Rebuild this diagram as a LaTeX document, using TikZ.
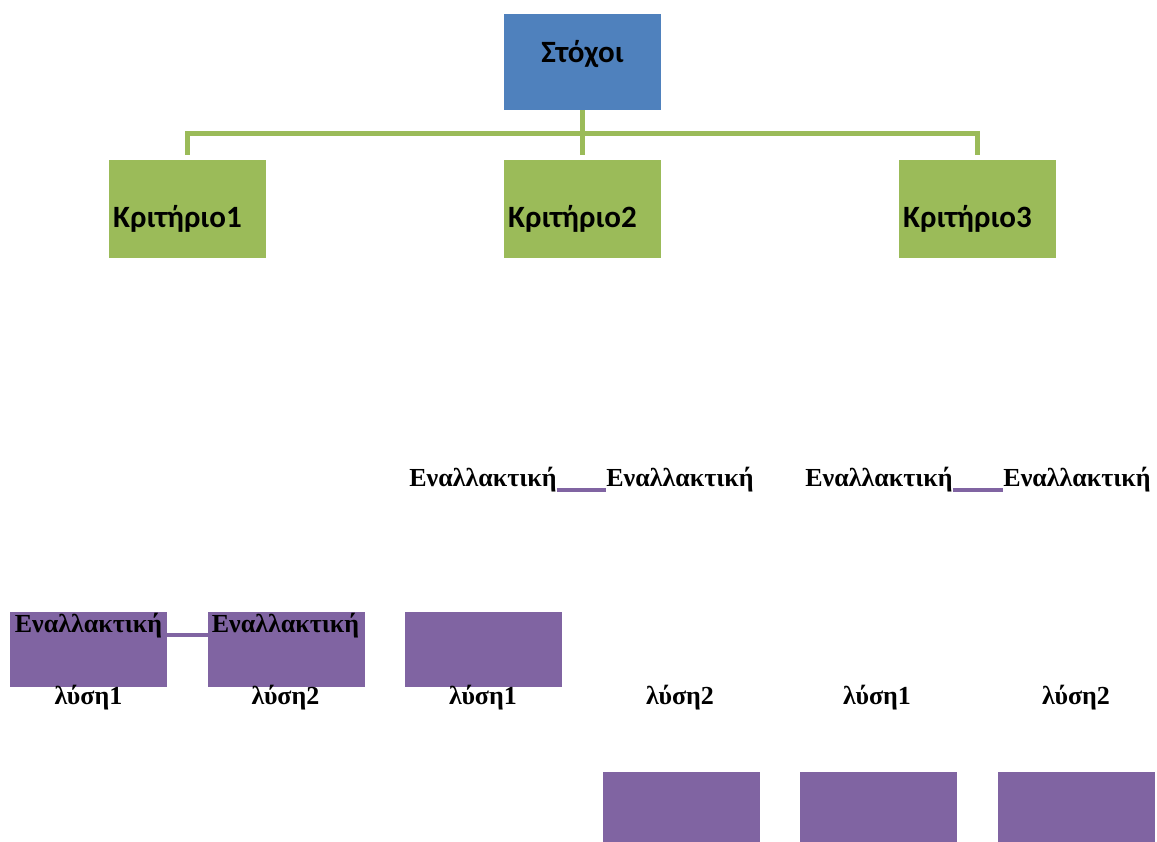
\documentclass[tikz,border=0pt]{standalone}
\usepackage{fontspec}
\setmainfont{Liberation Serif}
\newfontfamily\crit{Carlito}
\definecolor{cblue}{HTML}{4F81BD}
\definecolor{cgreen}{HTML}{9BBB59}
\definecolor{cpurple}{HTML}{8064A2}
\begin{document}
\begin{tikzpicture}[x=1pt,y=-1pt,
  box/.style={draw=none,inner sep=0pt,outer sep=0pt,minimum width=157pt,anchor=north west},
  gbox/.style={box,fill=cgreen,minimum height=98pt},
  bbox/.style={box,fill=cblue,minimum height=96pt},
  pbox/.style={box,fill=cpurple,minimum height=75pt},
  pbox2/.style={box,fill=cpurple,minimum height=70pt},
  stxt/.style={font=\crit\bfseries\fontsize{31}{35}\selectfont,inner sep=0pt},
  rtxt/.style={font=\bfseries\fontsize{26}{30}\selectfont,inner sep=0pt},
  gline/.style={draw=cgreen,line width=5pt},
  pline/.style={draw=cpurple,line width=4pt}]
\useasboundingbox (0,0) rectangle (1157,842);
% top
\node[bbox] (goal) at (504,14) {};
\node[stxt] (goalt) at (582.5,54) {Στόχοι};
% criteria
\node[gbox] (k1) at (109,160) {};
\node[gbox] (k2) at (504,160) {};
\node[gbox] (k3) at (899,160) {};
\node[stxt,anchor=west] (k1t) at (113,219) {Κριτήριο1};
\node[stxt,anchor=west] (k2t) at (508,219) {Κριτήριο2};
\node[stxt,anchor=west] (k3t) at (903,219) {Κριτήριο3};
\coordinate (hub) at (582.5,134);
\draw[gline] (goal.south) -- (hub);
\draw[gline,shorten >=5pt] (hub) -| (k1.north);
\draw[gline,shorten >=5pt] (hub) -| (k3.north);
\draw[gline,shorten >=5pt] (hub) -- (k2.north);
% purple boxes
\node[pbox] (a1) at (10,612) {};
\node[pbox] (a2) at (208,612) {};
\node[pbox] (a3) at (405,612) {};
\node[pbox2] (b1) at (603,772) {};
\node[pbox2] (b2) at (800,772) {};
\node[pbox2] (b3) at (998,772) {};
% texts
\node[rtxt] (e1) at (88.5,626) {Εναλλακτική};
\node[rtxt] (e2) at (285.5,626) {Εναλλακτική};
\node[rtxt] (e3) at (483,480) {Εναλλακτική};
\node[rtxt] (e4) at (680,480) {Εναλλακτική};
\node[rtxt] (e5) at (879,480) {Εναλλακτική};
\node[rtxt] (e6) at (1077,480) {Εναλλακτική};
\node[rtxt] (l1) at (88.5,698) {λύση1};
\node[rtxt] (l2) at (285.5,698) {λύση2};
\node[rtxt] (l3) at (483,698) {λύση1};
\node[rtxt] (l4) at (680,698) {λύση2};
\node[rtxt] (l5) at (877,698) {λύση1};
\node[rtxt] (l6) at (1076,698) {λύση2};
% connectors
\draw[pline] (a1.east |- 0,635) -- (a2.west |- 0,635);
\draw[pline] (e3.east |- 0,490) -- (e4.west |- 0,490);
\draw[pline] (e5.east |- 0,490) -- (e6.west |- 0,490);
\end{tikzpicture}
\end{document}
